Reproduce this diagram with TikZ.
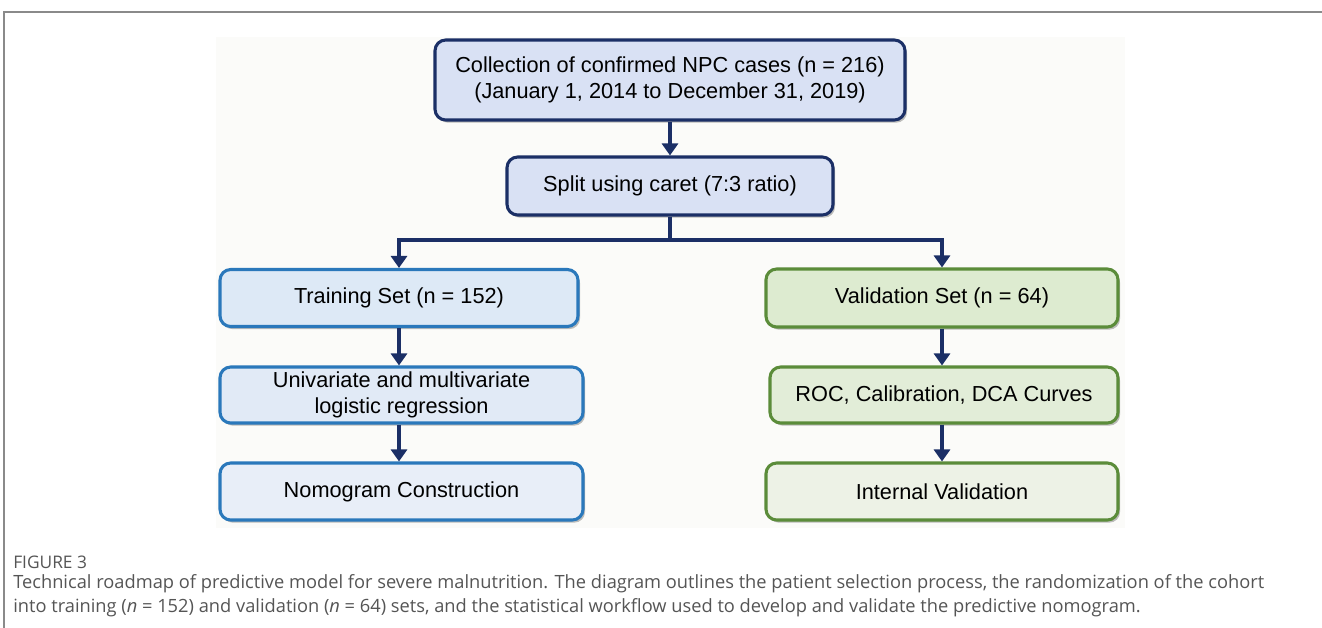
\documentclass[tikz,border=0pt]{standalone}
\usepackage{fontspec}
\setmainfont{Liberation Sans}
\newfontfamily\capfont{Open Sans}
\usetikzlibrary{arrows.meta,shadows}
\definecolor{navy}{HTML}{1B2F66}
\definecolor{topfill}{HTML}{D9E1F4}
\definecolor{blueline}{HTML}{2A78BB}
\definecolor{trainfill}{HTML}{DDE9F6}
\definecolor{unifill}{HTML}{E1EAF6}
\definecolor{nomofill}{HTML}{E8EEF8}
\definecolor{greenline}{HTML}{5B8C3A}
\definecolor{valfill}{HTML}{DDEBD0}
\definecolor{rocfill}{HTML}{E2EDD8}
\definecolor{intfill}{HTML}{EDF2E6}
\definecolor{framegray}{HTML}{8A8A8A}
\definecolor{capgray}{HTML}{555555}
\definecolor{bgpaper}{HTML}{FBFBF9}
\tikzset{
  box/.style={draw, line width=2.3pt, rounded corners=8pt, align=center,
    font=\fontsize{16.3}{19.8}\selectfont, text=black, inner sep=0pt,
    drop shadow={shadow xshift=1.5pt, shadow yshift=-2pt, opacity=0.25, fill=black}},
  navybox/.style={box, draw=navy, fill=topfill},
  bluebox/.style={box, draw=blueline},
  greenbox/.style={box, draw=greenline},
  conn/.style={draw=navy, line width=2.3pt},
  arr/.style={conn, -{Triangle[length=9pt,width=12pt]}},
  captext/.style={anchor=west, inner sep=0pt, text=capgray}
}
\begin{document}
\begin{tikzpicture}[x=0.75pt,y=-0.75pt]
\useasboundingbox (0,0) rectangle (1322,628);
\fill[white] (0,0) rectangle (1322,628);
\draw[framegray, line width=0.8pt] (1322,12) -- (4,12) -- (4,628);
\fill[bgpaper] (216,37) rectangle (1125,528);
% nodes
\node[navybox, minimum width=470*0.75pt, minimum height=80*0.75pt] (top) at (670,80)
  {Collection of confirmed NPC cases (n = 216)\\(January 1, 2014 to December 31, 2019)};
\node[navybox, minimum width=326*0.75pt, minimum height=58*0.75pt] (split) at (670,186)
  {Split using caret (7:3 ratio)};
\node[bluebox, fill=trainfill, minimum width=358*0.75pt, minimum height=57*0.75pt] (train) at (399,298)
  {Training Set (n = 152)};
\node[bluebox, fill=unifill, minimum width=363*0.75pt, minimum height=56*0.75pt] (uni) at (401.5,395)
  {Univariate and multivariate\\logistic regression};
\node[bluebox, fill=nomofill, minimum width=363*0.75pt, minimum height=57*0.75pt] (nomo) at (401.5,491.5)
  {Nomogram Construction};
\node[greenbox, fill=valfill, minimum width=352*0.75pt, minimum height=58*0.75pt] (val) at (942,298)
  {Validation Set (n = 64)};
\node[greenbox, fill=rocfill, minimum width=348*0.75pt, minimum height=56*0.75pt] (roc) at (944,395)
  {ROC, Calibration, DCA Curves};
\node[greenbox, fill=intfill, minimum width=352*0.75pt, minimum height=57*0.75pt] (int) at (942,491.5)
  {Internal Validation};
% connectors
\coordinate (br) at (670,240);
\draw[arr] (top.south) -- (split.north);
\draw[conn] (split.south) -- (br);
\draw[arr] (br) -| (train.north);
\draw[arr] (br) -| (val.north);
\draw[arr] (train.south) -- (train.south |- uni.north);
\draw[arr] (uni.south -| train.south) -- (train.south |- nomo.north);
\draw[arr] (val.south) -- (val.south |- roc.north);
\draw[arr] (roc.south -| val.south) -- (val.south |- int.north);
% caption
\node[captext, font=\capfont\fontsize{13}{15}\selectfont] (fig) at (13,562) {FIGURE 3};
\node[captext, font=\capfont\fontsize{13.7}{16}\selectfont] (cap1) at (13,584)
  {Technical roadmap of predictive model for severe malnutrition. The diagram outlines the patient selection process, the randomization of the cohort};
\node[captext, font=\capfont\fontsize{13.7}{16}\selectfont] (cap2) at (13,608)
  {into training (\textit{n} = 152) and validation (\textit{n} = 64) sets, and the statistical workflow used to develop and validate the predictive nomogram.};
\end{tikzpicture}
\end{document}
